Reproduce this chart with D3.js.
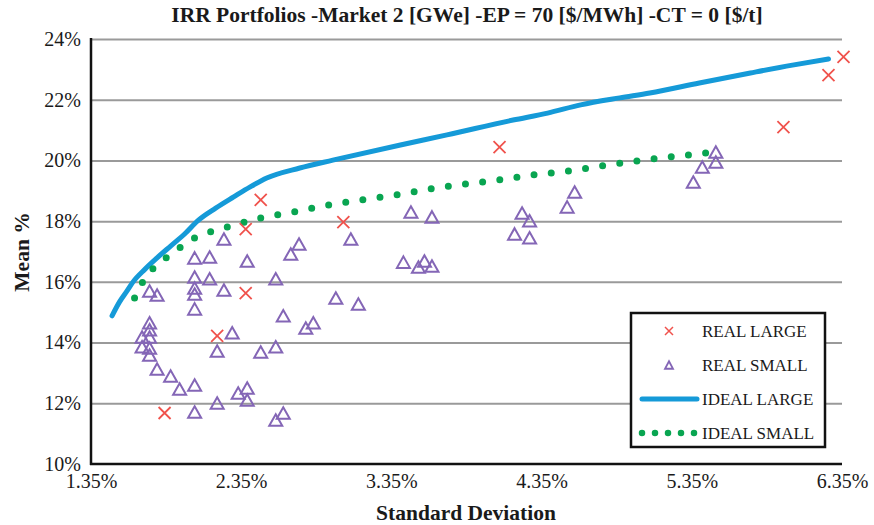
<!DOCTYPE html>
<html>
<head>
<meta charset="utf-8">
<script src="https://cdn.jsdelivr.net/npm/d3@7"></script>
<style>
  html, body { margin: 0; padding: 0; background: #fff; }
  svg { display: block; }
  text { font-family: "Liberation Serif", "Times New Roman", serif; fill: #1a1a1a; }
</style>
</head>
<body>
<svg id="chart" width="874" height="525"></svg>
<script>
// Axis ticks
const xTickValues = [1.35, 2.35, 3.35, 4.35, 5.35, 6.35];
const yTickValues = [10, 12, 14, 16, 18, 20, 22, 24];

// REAL LARGE portfolios (standard deviation %, mean %)
const realLargeSd   = [6.36, 6.26, 5.96, 4.07, 2.48, 2.38, 3.03, 2.38, 2.19, 1.84];
const realLargeMean = [23.41, 22.81, 21.10, 20.44, 18.70, 17.74, 17.97, 15.63, 14.22, 11.68];

// REAL SMALL portfolios
const realSmallSd = [
  2.235, 2.735, 3.08, 2.68, 2.04, 2.14, 2.39, 2.04, 2.14, 2.58,
  1.74, 1.79, 2.04, 2.04, 2.235, 2.04, 2.98, 3.13, 2.63, 2.78,
  2.83, 1.74, 1.74, 1.69, 1.74, 1.69, 1.74, 1.74, 2.29, 2.19,
  2.48, 2.58, 1.79, 1.88, 1.94, 2.04, 2.33, 2.39, 2.39, 2.19,
  2.04, 2.63, 2.58, 3.48, 3.62, 3.43, 3.53, 3.57, 3.62, 4.22,
  4.27, 4.17, 4.27, 4.57, 4.52, 5.36, 5.42, 5.51, 5.51
];
const realSmallMean = [
  17.41, 17.25, 17.41, 16.92, 16.79, 16.82, 16.69, 16.16, 16.10, 16.10,
  15.70, 15.57, 15.80, 15.60, 15.73, 15.11, 15.47, 15.27, 14.88, 14.48,
  14.65, 14.65, 14.42, 14.18, 14.18, 13.86, 13.82, 13.59, 14.32, 13.72,
  13.69, 13.86, 13.13, 12.90, 12.47, 12.60, 12.34, 12.50, 12.11, 12.01,
  11.71, 11.68, 11.45, 18.30, 18.14, 16.65, 16.49, 16.69, 16.52, 18.27,
  18.01, 17.58, 17.45, 18.96, 18.47, 19.29, 19.78, 20.28, 19.95
];

// IDEAL LARGE frontier
const idealLargeSd   = [1.49, 1.54, 1.59, 1.63, 1.71, 1.79, 1.88, 1.98, 2.06, 2.18, 2.30, 2.41, 2.52, 2.74, 2.96, 3.41, 3.72, 4.16, 4.39, 4.61, 4.87, 5.07, 5.40, 5.74, 6.02, 6.26];
const idealLargeMean = [14.88, 15.34, 15.70, 16.00, 16.42, 16.79, 17.18, 17.61, 18.01, 18.43, 18.80, 19.13, 19.42, 19.75, 20.01, 20.51, 20.84, 21.33, 21.56, 21.83, 22.06, 22.22, 22.55, 22.88, 23.14, 23.34];

// IDEAL SMALL frontier
const idealSmallSd   = [1.64, 1.69, 1.76, 1.85, 1.94, 2.04, 2.14, 2.26, 2.48, 2.70, 2.93, 3.15, 3.38, 3.61, 3.84, 4.07, 4.29, 4.53, 4.75, 4.98, 5.20, 5.38, 5.49];
const idealSmallMean = [15.47, 15.96, 16.42, 16.79, 17.12, 17.45, 17.64, 17.81, 18.10, 18.30, 18.53, 18.70, 18.86, 19.06, 19.22, 19.36, 19.52, 19.65, 19.82, 19.98, 20.11, 20.21, 20.28];

const legendLabels = ["REAL LARGE", "REAL SMALL", "IDEAL LARGE", "IDEAL SMALL"];

const colors = {
  realLarge: "#F0524C",
  realSmall: "#8466B6",
  idealLarge: "#159AD8",
  idealSmall: "#09A551"
};

const svg = d3.select("#chart");
const plotLeft = 91, plotRight = 842, plotTop = 39, plotBottom = 464;

const x = d3.scaleLinear().domain([1.35, 6.35]).range([plotLeft, plotRight]);
const y = d3.scaleLinear().domain([10, 24]).range([plotBottom, plotTop]);

// Title
svg.append("text")
  .attr("x", 467).attr("y", 22)
  .attr("text-anchor", "middle")
  .style("font-size", "21.5px").style("font-weight", "bold")
  .text("IRR Portfolios -Market 2 [GWe] -EP = 70 [$/MWh] -CT = 0 [$/t]");

// Horizontal gridlines
svg.append("g")
  .attr("transform", `translate(${plotLeft},0)`)
  .call(d3.axisLeft(y).tickValues(yTickValues.filter(v => v !== 10)).tickSize(-(plotRight - plotLeft)).tickFormat(""))
  .call(g => g.select(".domain").remove())
  .call(g => g.selectAll("line").attr("stroke", "#9a9a9a").attr("stroke-width", 2));

// Y axis labels
svg.append("g")
  .attr("transform", `translate(${plotLeft},0)`)
  .call(d3.axisLeft(y).tickValues(yTickValues).tickSize(0).tickPadding(10).tickFormat(d => d + "%"))
  .call(g => g.select(".domain").remove())
  .call(g => g.selectAll("text").style("font-size", "20px").attr("font-family", null));

// X axis labels
svg.append("g")
  .attr("transform", `translate(0,${plotBottom})`)
  .call(d3.axisBottom(x).tickValues(xTickValues).tickSize(0).tickPadding(10).tickFormat(d => d3.format(".2f")(d) + "%"))
  .call(g => g.select(".domain").remove())
  .call(g => g.selectAll("text").style("font-size", "20px").attr("font-family", null));

// Axis lines
svg.append("line").attr("x1", plotLeft).attr("x2", plotLeft).attr("y1", plotTop - 1).attr("y2", plotBottom + 1)
  .attr("stroke", "#111").attr("stroke-width", 2.5);
svg.append("line").attr("x1", plotLeft - 1).attr("x2", plotRight).attr("y1", plotBottom).attr("y2", plotBottom)
  .attr("stroke", "#111").attr("stroke-width", 2.5);

// Axis titles
svg.append("text")
  .attr("x", 466).attr("y", 520)
  .attr("text-anchor", "middle")
  .style("font-size", "21.5px").style("font-weight", "bold")
  .text("Standard Deviation");
svg.append("text")
  .attr("transform", `translate(29,252) rotate(-90)`)
  .attr("text-anchor", "middle")
  .style("font-size", "21.5px").style("font-weight", "bold")
  .text("Mean %");

// Marker shapes
const crossPath = s => `M${-s/2},${-s/2}L${s/2},${s/2}M${-s/2},${s/2}L${s/2},${-s/2}`;
const triPath = (w, h) => `M0,${-h/2}L${w/2},${h/2}L${-w/2},${h/2}Z`;

// Frontier line generator
const frontierLine = d3.line().curve(d3.curveMonotoneX).x(d => x(d[0])).y(d => y(d[1]));

// IDEAL LARGE line
svg.append("path")
  .datum(d3.zip(idealLargeSd, idealLargeMean))
  .attr("d", frontierLine)
  .attr("fill", "none").attr("stroke", colors.idealLarge)
  .attr("stroke-width", 5).attr("stroke-linecap", "round").attr("stroke-linejoin", "round");

// IDEAL SMALL dotted line
svg.append("path")
  .datum(d3.zip(idealSmallSd, idealSmallMean))
  .attr("d", frontierLine)
  .attr("fill", "none").attr("stroke", colors.idealSmall)
  .attr("stroke-width", 7).attr("stroke-linecap", "round")
  .attr("stroke-dasharray", "0 17.3");

// REAL SMALL triangles
svg.append("g").selectAll("path")
  .data(d3.zip(realSmallSd, realSmallMean))
  .join("path")
  .attr("transform", d => `translate(${x(d[0])},${y(d[1])})`)
  .attr("d", triPath(13, 11.5))
  .attr("fill", "none").attr("stroke", colors.realSmall).attr("stroke-width", 2)
  .attr("stroke-linejoin", "miter");

// REAL LARGE crosses
svg.append("g").selectAll("path")
  .data(d3.zip(realLargeSd, realLargeMean))
  .join("path")
  .attr("transform", d => `translate(${x(d[0])},${y(d[1])})`)
  .attr("d", crossPath(12))
  .attr("fill", "none").attr("stroke", colors.realLarge).attr("stroke-width", 1.8);

// Legend
const lg = svg.append("g");
lg.append("rect").attr("x", 631).attr("y", 313).attr("width", 194).attr("height", 134)
  .attr("fill", "#fff").attr("stroke", "#111").attr("stroke-width", 2.5);
const rowY = [331, 365, 399, 433];
lg.append("path").attr("transform", `translate(669,${rowY[0]})`).attr("d", crossPath(8))
  .attr("stroke", colors.realLarge).attr("stroke-width", 1.5).attr("fill", "none");
lg.append("path").attr("transform", `translate(669,${rowY[1]})`).attr("d", triPath(8, 7.5))
  .attr("stroke", colors.realSmall).attr("stroke-width", 1.8).attr("fill", "none");
lg.append("line").attr("x1", 642).attr("x2", 697).attr("y1", rowY[2]).attr("y2", rowY[2])
  .attr("stroke", colors.idealLarge).attr("stroke-width", 5).attr("stroke-linecap", "round");
lg.append("line").attr("x1", 642).attr("x2", 695).attr("y1", rowY[3]).attr("y2", rowY[3])
  .attr("stroke", colors.idealSmall).attr("stroke-width", 6.5).attr("stroke-linecap", "round")
  .attr("stroke-dasharray", "0 13");
lg.selectAll("text.lab")
  .data(legendLabels)
  .join("text")
  .attr("class", "lab")
  .attr("x", 702).attr("y", (d, i) => rowY[i] + 6)
  .style("font-size", "17px")
  .text(d => d);
</script>
</body>
</html>
